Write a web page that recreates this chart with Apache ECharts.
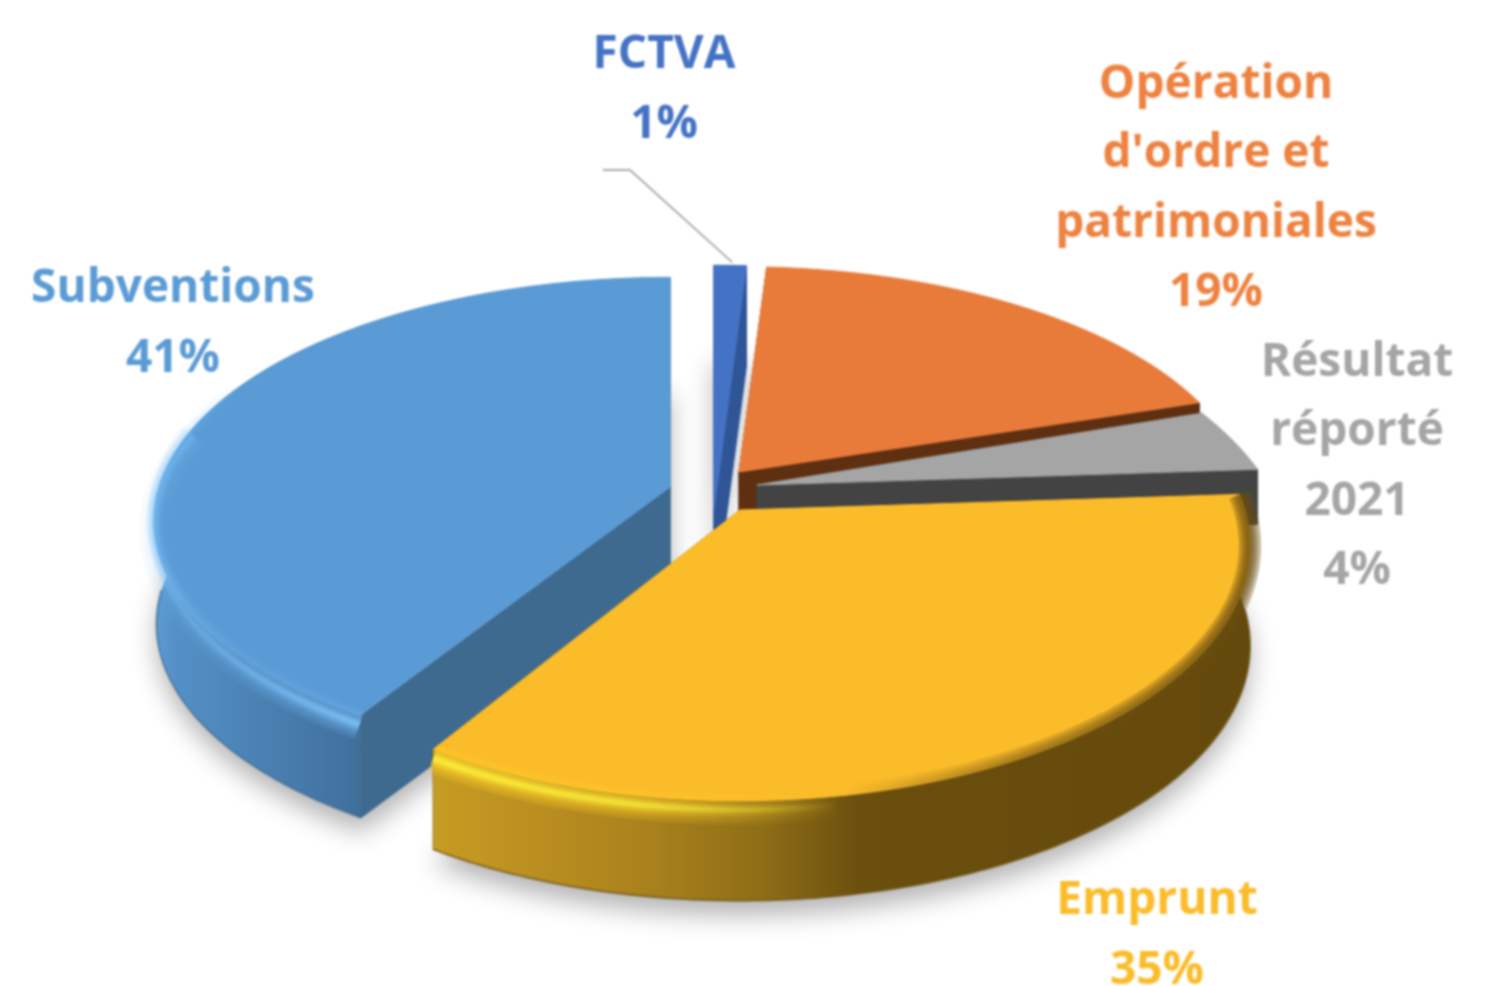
<!DOCTYPE html>
<html>
<head>
<meta charset="utf-8">
<style>
html,body{margin:0;padding:0;background:#fff}
#main{width:1489px;height:986px;filter:blur(0.8px)}
</style>
<script src="https://cdn.jsdelivr.net/npm/echarts@6/dist/echarts.min.js"></script>
</head>
<body>
<div id="main"></div>
<script>
// ---- data (clockwise from 12 o'clock) ----
var categories = ["FCTVA", "Opération\nd'ordre et\npatrimoniales", "Résultat\nréporté\n2021", "Emprunt", "Subventions"];
var shares = [1, 19, 4, 35, 41];
var shareLabels = ["1%", "19%", "4%", "35%", "41%"];

// ---- styling / geometry of the tilted, exploded pie ----
var look = [
  {ax:714, ay:510, rx:590, ry:279, k:0.14, depth:100, bs:1, rank:1, top:'#4472c4', edge:'#2f5597', text:'#4472c4', tx:664, ty:90},
  {ax:739, ay:472, rx:505, ry:234, k:0.14, depth:45, bs:1, rank:1, top:'#e97b3a', edge:'#5e2f10', text:'#ee8240', tx:1216, ty:189},
  {ax:757, ay:485, rx:511, ry:254, k:0.30, depth:55, bs:1, rank:2, top:'#a5a5a5', edge:'#434343', text:'#a5a5a5', tx:1357, ty:467},
  {ax:740, ay:510, rx:505, ry:250, k:0.14, depth:100, bs:1, rank:4, top:'#fbbc2a', edge:'#6b500e', text:'#fbbc2a', tx:1157, ty:936,
    wallFrom:432, wallTo:1255,
    wall:[[0,'#c79c22'],[0.14,'#b98d20'],[0.27,'#a8801c'],[0.4,'#8f6e17'],[0.52,'#6b4f0e'],[1,'#64490c']],
    glow:'255,240,55', glowMid:'255,205,40', glowFrom:432, glowTo:840,
    glowStops:[[0,1],[0.5,0.8],[1,0]],
    edgeColor:'105,76,14', edgeStops:[[0,0],[0.5,0],[0.72,0.5],[1,0.9]], edgeWidths:[22,15,8]},
  {ax:670, ay:487, rx:511, ry:239, k:0.14, depth:103, bs:0.995, rank:3, top:'#5b9bd5', edge:'#3f6a8f', text:'#5b9bd5', tx:173, ty:324,
    wallFrom:150, wallTo:372,
    wall:[[0,'#5f9fd9'],[0.12,'#5490c6'],[0.5,'#4a81b3'],[0.9,'#41719f'],[1,'#3f6a8f']],
    glow:'125,195,250', glowMid:'105,175,235', glowFrom:150, glowTo:372,
    glowStops:[[0,0.15],[0.45,0.5],[1,1]],
    edgeColor:'120,190,245', edgeStops:[[0,0.55],[0.18,0.2],[0.4,0],[1,0]], edgeWidths:[14,8,4]}
];
var textFont = '700 46px "Open Sans", Lato, sans-serif';
var leader = {color:'#a9a9a9'};

function pt(g, deg) {
  var t = deg * Math.PI / 180, c = Math.cos(t), s = Math.sin(t), w = 1 / (1 + g.k * c);
  return [g.ax + g.rx * s * w, g.ay - g.ry * c * w];
}
function under(g, p) {
  return [g.ax + (p[0] - g.ax) * g.bs, g.ay + (p[1] - g.ay) * g.bs + g.depth];
}
function arc(g, a, b) {
  var out = [], n = Math.max(2, Math.ceil(Math.abs(b - a))), i;
  for (i = 0; i <= n; i++) out.push(pt(g, a + (b - a) * i / n));
  return out;
}
function startAngle(i) {
  var sum = shares.reduce(function (x, y) { return x + y; }, 0), acc = 0, k;
  for (k = 0; k < i; k++) acc += shares[k];
  return acc / sum * 360;
}
function fadeGrad(x1, x2, rgb, stops, alpha) {
  return {type:'linear', global:true, x:x1, y:0, x2:x2, y2:0,
    colorStops: stops.map(function (s) { return {offset:s[0], color:'rgba(' + rgb + ',' + (s[1] * alpha) + ')'}; })};
}
function hGrad(x1, x2, stops) {
  return {type:'linear', global:true, x:x1, y:0, x2:x2, y2:0,
    colorStops: stops.map(function (s) { return {offset:s[0], color:s[1]}; })};
}

function renderSlice(params, api) {
  var i = params.dataIndex, g = look[i];
  var share = api.value(0);
  var a0 = startAngle(i), a1 = a0 + share / 100 * 360;
  var base = g.rank * 10, kids = [];
  var rim = arc(g, a0, a1);
  var A = [g.ax, g.ay];
  var face = [A].concat(rim);

  // soft ground shadow (white body stays hidden under the slice)
  if (i === 0 || i >= 3) {
    var sh = [under(g, A)].concat(rim.map(function (p) { return under(g, p); }));
    kids.push({type:'polygon', shape:{points:sh}, z2:1, style:{fill:'#ffffff',
      shadowBlur:26, shadowOffsetY:i === 0 ? 0 : 14, shadowColor:'rgba(0,0,0,0.30)'}});
  }
  // cut walls
  [pt(g, a0), pt(g, a1)].forEach(function (p) {
    kids.push({type:'polygon', shape:{points:[A, p, under(g, p), under(g, A)]}, z2:base + 1, style:{fill:g.edge, stroke:g.edge, lineWidth:1}});
  });
  // top face
  kids.push({type:'polygon', shape:{points:face}, z2:base + 4, style:{fill:g.top, stroke:g.top, lineWidth:1}});

  // outer wall and bevelled rim
  if (g.wall) {
    var front = arc(g, Math.max(a0, 60), Math.min(a1, 330));
    var wallPts = front.concat(front.slice().reverse().map(function (p) { return under(g, p); }));
    kids.push({type:'polygon', shape:{points:wallPts}, z2:base + 2,
      style:{fill:hGrad(g.wallFrom, g.wallTo, g.wall)}});
    // thin dark foot of the wall
    var foot = arc(g, Math.max(a0, 90), Math.min(a1, 270)).map(function (p) { return under(g, p); });
    kids.push({type:'polyline', shape:{points:foot}, z2:base + 3,
      style:{fill:null, stroke:g.edge, lineWidth:2, opacity:0.7}});
    var lowered = arc(g, Math.max(a0, 60), Math.min(a1, 285)).map(function (p) { return [p[0], p[1] + 9]; });
    [[30,0.25,g.glowMid],[22,0.3,g.glowMid],[14,0.35,g.glow],[8,0.45,g.glow],[4,0.6,g.glow]].forEach(function (b) {
      kids.push({type:'polyline', shape:{points:lowered}, z2:base + 5, style:{fill:null, lineJoin:'round',
        stroke:fadeGrad(g.glowFrom, g.glowTo, b[2], g.glowStops, b[1]), lineWidth:b[0]}});
    });
    g.edgeWidths.forEach(function (w) {
      kids.push({type:'polyline', shape:{points:front}, z2:base + 6, style:{fill:null, lineJoin:'round',
        stroke:fadeGrad(g.wallFrom, g.wallTo, g.edgeColor, g.edgeStops, 0.45), lineWidth:w}});
    });
  }

  // leader line of the first slice
  if (i === 0) {
    var tip = pt(g, (a0 + a1) / 2);
    kids.push({type:'polyline', shape:{points:[[603,170],[630,170],[tip[0] + 2, tip[1] - 3]]}, z2:90,
      style:{fill:null, stroke:leader.color, lineWidth:1.8}});
  }
  // label
  kids.push({type:'text', z2:100, style:{
    text: categories[i] + '\n' + shareLabels[i],
    x:g.tx, y:g.ty, align:'center', verticalAlign:'middle',
    font:textFont, lineHeight:69.5, fill:g.text}});
  return {type:'group', children:kids};
}

var chart = echarts.init(document.getElementById('main'), null, {renderer:'canvas'});
chart.setOption({
  animation:false,
  backgroundColor:'#ffffff',
  series:[{
    type:'custom',
    coordinateSystem:'none',
    silent:true,
    clip:false,
    renderItem:renderSlice,
    data:shares.map(function (v, i) { return {name:categories[i], value:[v]}; })
  }]
});
</script>
</body>
</html>
